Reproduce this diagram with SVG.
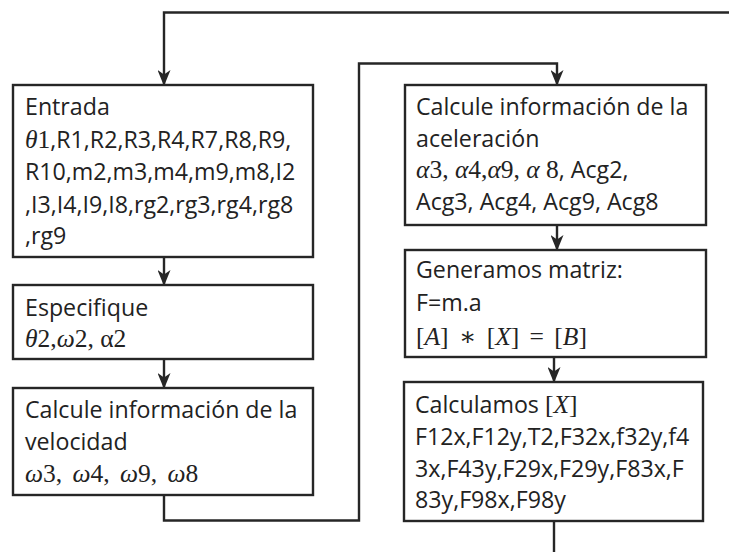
<svg xmlns="http://www.w3.org/2000/svg" width="729" height="552" viewBox="0 0 729 552">
<defs>
<style>
.box{fill:#ffffff;stroke:#262626;stroke-width:2.4}
.t{font-family:"Open Sans","Noto Sans","Liberation Sans",sans-serif;font-size:23.2px;fill:#222222}
.m{font-family:"Liberation Serif","DejaVu Serif",serif;font-size:25.5px;font-style:italic}
.mu{font-family:"Liberation Serif","DejaVu Serif",serif;font-size:25.5px;font-style:normal}
.ws{word-spacing:4px}
.c{fill:none;stroke:#262626;stroke-width:2.4}
</style>
<marker id="ah" viewBox="0 0 16 13" refX="15" refY="6.5" markerWidth="16" markerHeight="13" markerUnits="userSpaceOnUse" orient="auto">
<path d="M0,0 L16,6.5 L0,13 L4.5,6.5 Z" fill="#262626"/>
</marker>
</defs>
<g id="connectors">
<path class="c" d="M730,12.5 H164 V85" marker-end="url(#ah)"/>
<path class="c" d="M164,257 V285" marker-end="url(#ah)"/>
<path class="c" d="M164,359 V388" marker-end="url(#ah)"/>
<path class="c" d="M164,495 V520.5 H359 V63.5 H557 V85" marker-end="url(#ah)"/>
<path class="c" d="M557,225 V250" marker-end="url(#ah)"/>
<path class="c" d="M554,357 V382" marker-end="url(#ah)"/>
<path class="c" d="M554,521 V553"/>
</g>
<g id="entrada">
<rect class="box" x="13" y="85" width="300" height="172"/>
<text class="t" x="25" y="115">Entrada</text>
<text class="t" x="25" y="147.5"><tspan class="m">θ</tspan><tspan class="mu">1</tspan>,R1,R2,R3,R4,R7,R8,R9,</text>
<text class="t" x="25" y="180">R10,m2,m3,m4,m9,m8,I2</text>
<text class="t" x="25" y="212.5">,I3,I4,I9,I8,rg2,rg3,rg4,rg8</text>
<text class="t" x="25" y="244">,rg9</text>
</g>
<g id="especifique">
<rect class="box" x="13" y="285" width="300" height="74"/>
<text class="t" x="25" y="316">Especifique</text>
<text class="t" x="25" y="347"><tspan class="m">θ</tspan><tspan class="mu">2,</tspan><tspan class="m">ω</tspan><tspan class="mu">2, α2</tspan></text>
</g>
<g id="velocidad">
<rect class="box" x="13" y="388" width="300" height="107"/>
<text class="t" x="25" y="418">Calcule información de la</text>
<text class="t" x="25" y="450">velocidad</text>
<text class="t ws" x="25" y="482"><tspan class="m">ω</tspan><tspan class="mu">3, </tspan><tspan class="m">ω</tspan><tspan class="mu">4, </tspan><tspan class="m">ω</tspan><tspan class="mu">9, </tspan><tspan class="m">ω</tspan><tspan class="mu">8</tspan></text>
</g>
<g id="aceleracion">
<rect class="box" x="405" y="85" width="301" height="140"/>
<text class="t" x="416" y="115">Calcule información de la</text>
<text class="t" x="416" y="147">aceleración</text>
<text class="t" x="416" y="178"><tspan class="m">α</tspan><tspan class="mu">3, </tspan><tspan class="m">α</tspan><tspan class="mu">4,</tspan><tspan class="m">α</tspan><tspan class="mu">9, </tspan><tspan class="m">α</tspan><tspan class="mu"> 8</tspan>, Acg2,</text>
<text class="t" x="416" y="210">Acg3, Acg4, Acg9, Acg8</text>
</g>
<g id="matriz">
<rect class="box" x="405" y="250" width="301" height="107"/>
<text class="t" x="416" y="278">Generamos matriz:</text>
<text class="t" x="416" y="311">F=m.a</text>
<text class="t ws" x="416" y="345"><tspan class="mu">[</tspan><tspan class="m">A</tspan><tspan class="mu">] ∗ [</tspan><tspan class="m">X</tspan><tspan class="mu">] = [</tspan><tspan class="m">B</tspan><tspan class="mu">]</tspan></text>
</g>
<g id="calculamos">
<rect class="box" x="404" y="382" width="299" height="139"/>
<text class="t" x="415" y="413">Calculamos <tspan class="mu">[</tspan><tspan class="m">X</tspan><tspan class="mu">]</tspan></text>
<text class="t" x="415" y="445">F12x,F12y,T2,F32x,f32y,f4</text>
<text class="t" x="415" y="477">3x,F43y,F29x,F29y,F83x,F</text>
<text class="t" x="415" y="508">83y,F98x,F98y</text>
</g>
</svg>
